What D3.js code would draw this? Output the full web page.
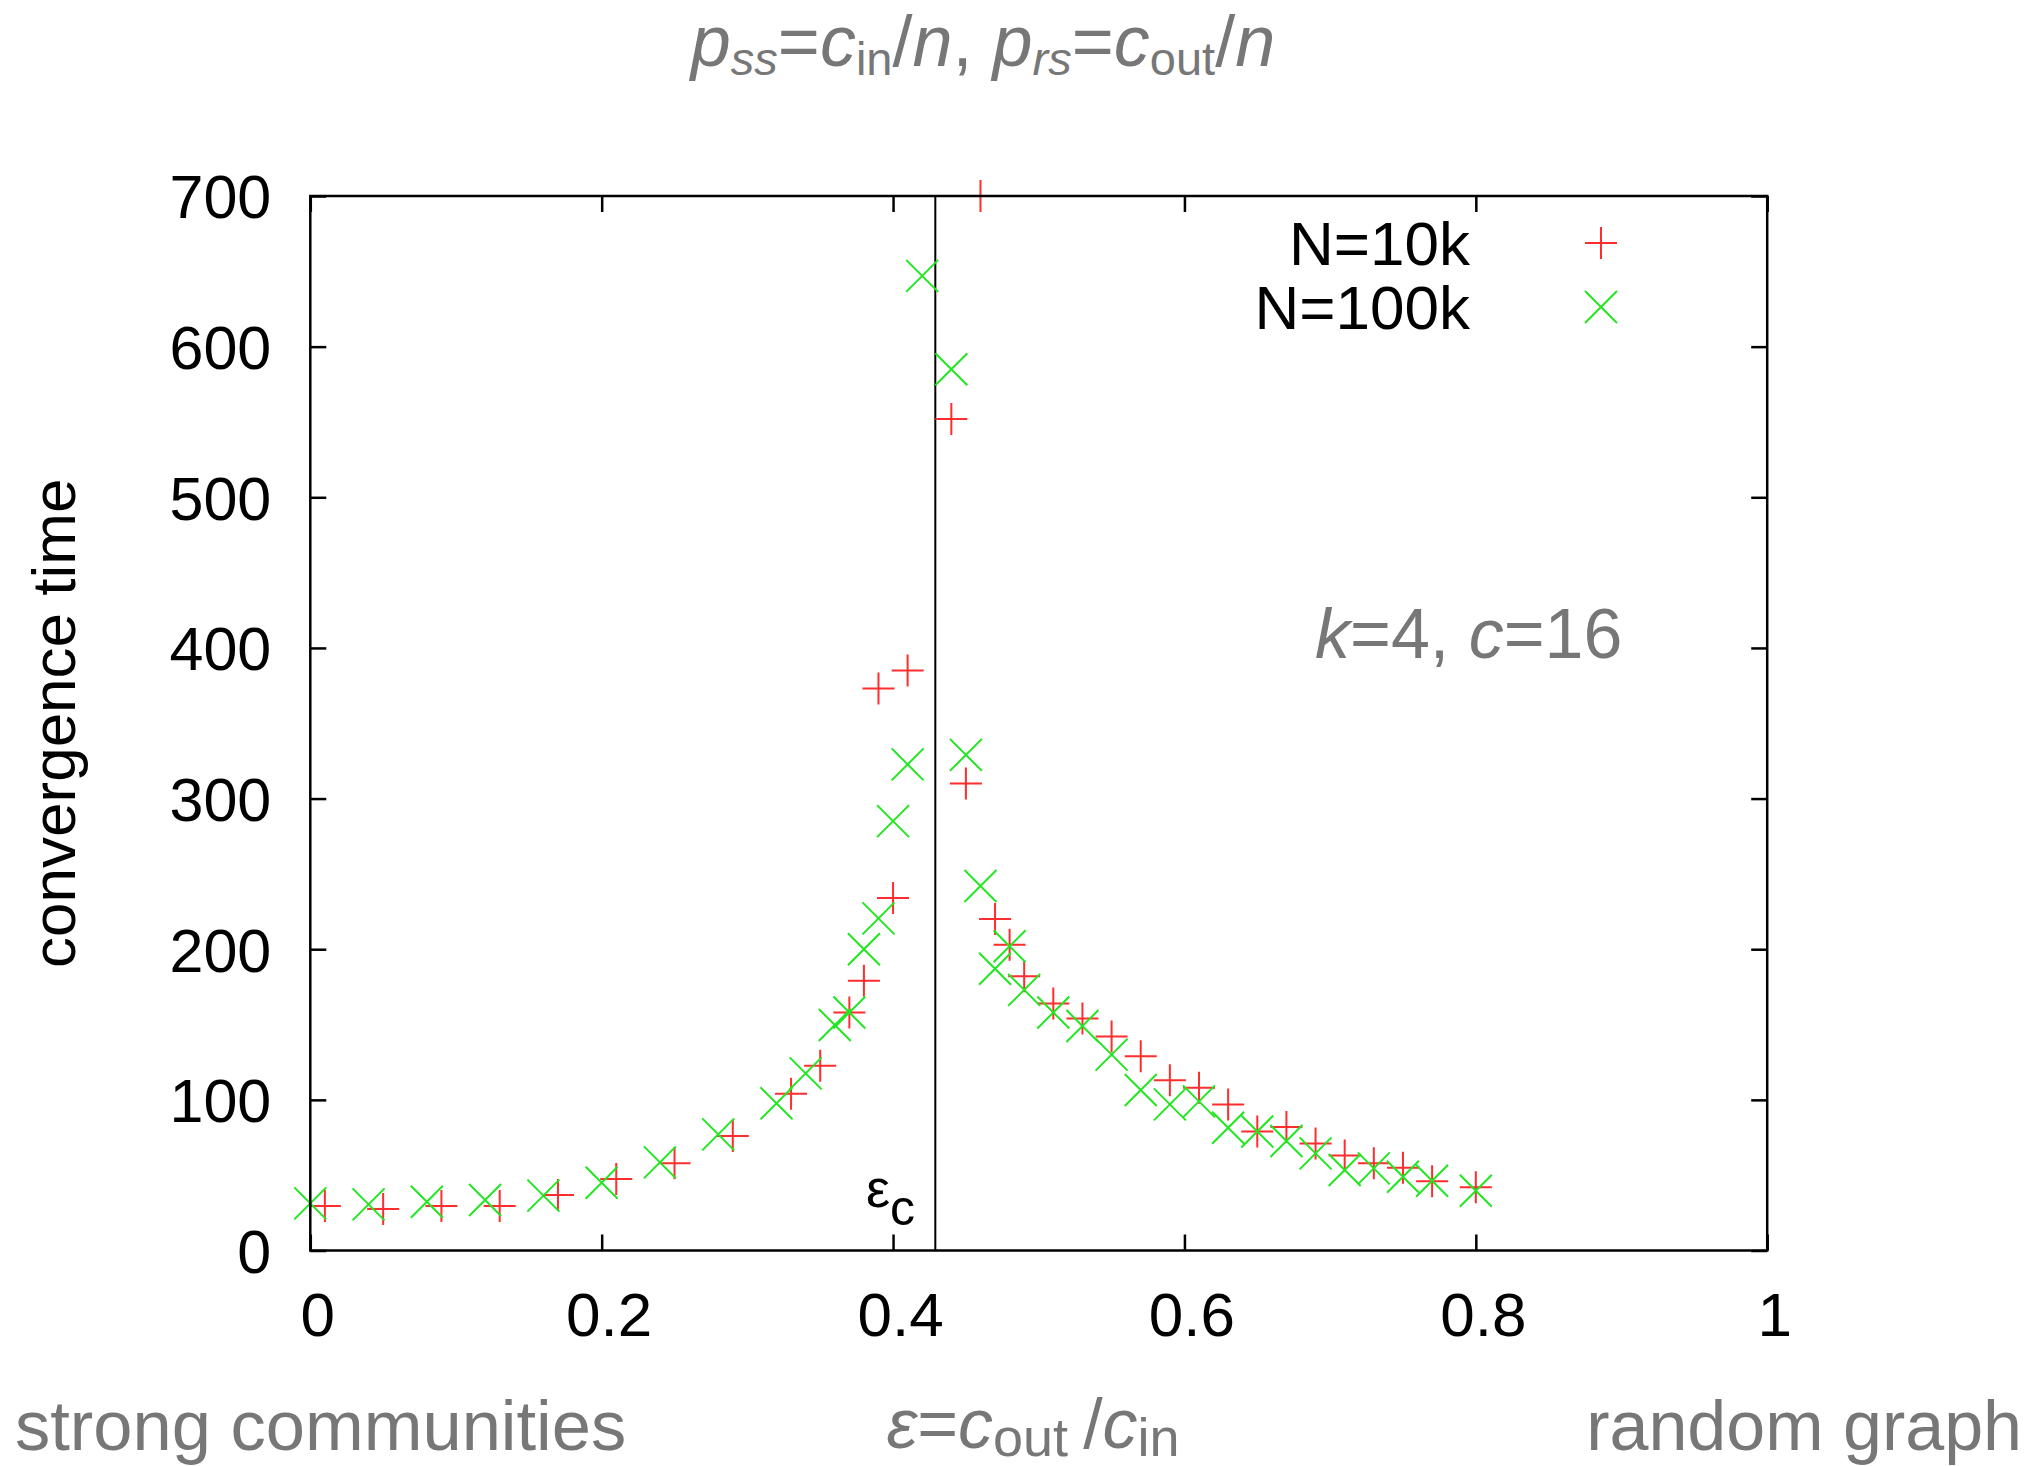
<!DOCTYPE html>
<html><head><meta charset="utf-8">
<script src="https://cdn.jsdelivr.net/npm/d3@7"></script>
<style>body{margin:0;background:#fff;} svg{display:block;}</style>
</head><body>
<svg id="chart" width="2036" height="1466"></svg>
<script>
// ---- data ----
const eps10k  = [0.01,0.05,0.09,0.13,0.17,0.21,0.25,0.29,0.33,0.35,0.37,0.38,0.39,0.40,0.41,0.44,0.45,0.46,0.47,0.48,0.49,0.51,0.53,0.55,0.57,0.59,0.61,0.63,0.65,0.67,0.69,0.71,0.73,0.75,0.77,0.80];
const time10k = [29.5,27.5,29.5,29.5,36.8,47.5,57.9,76,104,122.7,158,179,373,234,385,552,310,700,220,203,182,164,154,142,129,113,108,97,79,82,71,63,58,55,46,42];
const eps100k  = [0,0.04,0.08,0.12,0.16,0.20,0.24,0.28,0.32,0.34,0.36,0.37,0.38,0.39,0.40,0.41,0.42,0.44,0.45,0.46,0.47,0.48,0.49,0.51,0.53,0.55,0.57,0.59,0.61,0.63,0.65,0.67,0.69,0.71,0.73,0.75,0.77,0.80];
const time100k = [31.3,30.6,32.4,33.5,36.4,45,58.5,77.1,97.7,117.6,149.7,158,200,220.5,285,322.7,647,585,329,242,187,202,173,158,149,130,106.5,97,99,81.5,79,72.7,64.5,53.4,54.5,49,46.3,39.7];
const seriesNames = ["N=10k", "N=100k"];
const xTicks = [0, 0.2, 0.4, 0.6, 0.8, 1];
const xTickLabels = ["0", "0.2", "0.4", "0.6", "0.8", "1"];
const yTicks = [0, 100, 200, 300, 400, 500, 600, 700];
const yTickLabels = ["0", "100", "200", "300", "400", "500", "600", "700"];
const epsCritical = 0.429;

// ---- layout ----
const W = 2036, H = 1466;
const P = {left: 310.3, right: 1767.2, top: 196, bottom: 1250.5};
const font = "'Liberation Sans', Arial, Helvetica, sans-serif";
const gray = "#777777";
const red = "#ff2e2e", green = "#22e622";

const x = d3.scaleLinear().domain([0, 1]).range([P.left, P.right]);
const y = d3.scaleLinear().domain([0, 700]).range([P.bottom, P.top]);

const svg = d3.select("#chart");
svg.append("rect").attr("width", W).attr("height", H).attr("fill", "#fff");

const tickLen = 16;

// tick labels
const gxl = svg.append("g").attr("transform", `translate(7,${P.bottom})`)
  .call(d3.axisBottom(x).tickValues(xTicks).tickFormat((d, i) => xTickLabels[i]).tickSize(0));
gxl.select(".domain").remove();
gxl.selectAll("text").attr("y", 85).attr("dy", 0)
  .attr("font-size", 62).attr("font-family", font).attr("fill", "#000");

const gyl = svg.append("g").attr("transform", `translate(${P.left},0)`)
  .call(d3.axisLeft(y).tickValues(yTicks).tickFormat((d, i) => yTickLabels[i]).tickSize(0));
gyl.select(".domain").remove();
gyl.selectAll("text").attr("x", -39).attr("dy", "0.36em")
  .attr("font-size", 61).attr("font-family", font).attr("fill", "#000");

// inward tick marks on all four sides
function tickG(axis, tx, ty) {
  const g = svg.append("g").attr("transform", `translate(${tx},${ty})`).call(axis);
  g.select(".domain").remove();
  g.selectAll("line").attr("stroke", "#000").attr("stroke-width", 2.5);
  return g;
}
tickG(d3.axisTop(x).tickValues(xTicks).tickSize(tickLen).tickFormat(""), 0, P.bottom);
tickG(d3.axisBottom(x).tickValues(xTicks).tickSize(tickLen).tickFormat(""), 0, P.top);
tickG(d3.axisRight(y).tickValues(yTicks).tickSize(tickLen).tickFormat(""), P.left, 0);
tickG(d3.axisLeft(y).tickValues(yTicks).tickSize(tickLen).tickFormat(""), P.right, 0);

// critical line
svg.append("line")
  .attr("x1", x(epsCritical)).attr("x2", x(epsCritical))
  .attr("y1", y(0)).attr("y2", y(700))
  .attr("stroke", "#000").attr("stroke-width", 2);

// markers
const plusPath = "M-16,0H16M0,-16V16";
const crossPath = "M-16,-16L16,16M-16,16L16,-16";

const d10 = eps10k.map((e, i) => ({e, t: time10k[i]}));
const d100 = eps100k.map((e, i) => ({e, t: time100k[i]}));

svg.append("g").selectAll("path").data(d10).join("path")
  .attr("d", plusPath)
  .attr("transform", d => `translate(${x(d.e)},${y(d.t)})`)
  .attr("fill", "none").attr("stroke", red).attr("stroke-width", 2);

svg.append("g").selectAll("path").data(d100).join("path")
  .attr("d", crossPath)
  .attr("transform", d => `translate(${x(d.e)},${y(d.t)})`)
  .attr("fill", "none").attr("stroke", green).attr("stroke-width", 2);

// border
svg.append("rect")
  .attr("x", P.left).attr("y", P.top)
  .attr("width", P.right - P.left).attr("height", P.bottom - P.top)
  .attr("fill", "none").attr("stroke", "#000").attr("stroke-width", 2.5);

// legend
const legendRows = [
  {name: seriesNames[0], path: plusPath, color: red, yy: 243},
  {name: seriesNames[1], path: crossPath, color: green, yy: 307}
];
const lg = svg.append("g");
legendRows.forEach(r => {
  lg.append("text").attr("x", 1470).attr("y", r.yy + 22)
    .attr("text-anchor", "end").attr("font-family", font).attr("font-size", 62)
    .attr("fill", "#000").text(r.name);
  lg.append("path").attr("d", r.path).attr("transform", `translate(1601,${r.yy})`)
    .attr("fill", "none").attr("stroke", r.color).attr("stroke-width", 2);
});

// epsilon_c label
const ec = svg.append("text").attr("x", 866).attr("y", 1207)
  .attr("font-family", font).attr("font-size", 54).attr("fill", "#000");
ec.append("tspan").text("ε");
ec.append("tspan").attr("dy", 18).attr("font-size", 50).text("c");

// y-axis title
svg.append("text")
  .attr("transform", `translate(75,${(P.top + P.bottom) / 2}) rotate(-90)`)
  .attr("text-anchor", "middle").attr("font-family", font).attr("font-size", 62)
  .attr("fill", "#000").text("convergence time");

// helper for rich text
function rich(xx, yy, anchor, size, parts) {
  const t = svg.append("text").attr("x", xx).attr("y", yy)
    .attr("text-anchor", anchor).attr("font-family", font)
    .attr("font-size", size).attr("fill", gray);
  let shift = 0;
  parts.forEach(p => {
    const s = t.append("tspan").text(p.t);
    if (p.i) s.attr("font-style", "italic");
    const target = p.sub ? p.sub : 0;
    if (target !== shift) { s.attr("dy", target - shift); shift = target; }
    if (p.fs) s.attr("font-size", p.fs);
  });
  return t;
}

// title
rich(983, 66, "middle", 72, [
  {t: "p", i: 1}, {t: "ss", i: 1, sub: 9, fs: 47},
  {t: "=", sub: 0}, {t: "c", i: 1}, {t: "in", sub: 9, fs: 47},
  {t: "/", sub: 0}, {t: "n", i: 1}, {t: ", "},
  {t: "p", i: 1}, {t: "rs", i: 1, sub: 9, fs: 47},
  {t: "=", sub: 0}, {t: "c", i: 1}, {t: "out", sub: 9, fs: 47},
  {t: "/", sub: 0}, {t: "n", i: 1}
]);

// k, c annotation
rich(1315, 658, "start", 70, [
  {t: "k", i: 1}, {t: "=4, "}, {t: "c", i: 1}, {t: "=16"}
]);

// bottom annotations
svg.append("text").attr("x", 15).attr("y", 1450).attr("font-family", font)
  .attr("font-size", 70.5).attr("fill", gray).text("strong communities");
svg.append("text").attr("x", 2022).attr("y", 1450).attr("text-anchor", "end")
  .attr("font-family", font).attr("font-size", 70).attr("fill", gray).text("random graph");
rich(1033, 1448, "middle", 70, [
  {t: "ε", i: 1}, {t: "="}, {t: "c", i: 1}, {t: "out ", sub: 8, fs: 54},
  {t: "/", sub: 0}, {t: "c", i: 1}, {t: "in", sub: 8, fs: 54}
]);
</script>
</body></html>
